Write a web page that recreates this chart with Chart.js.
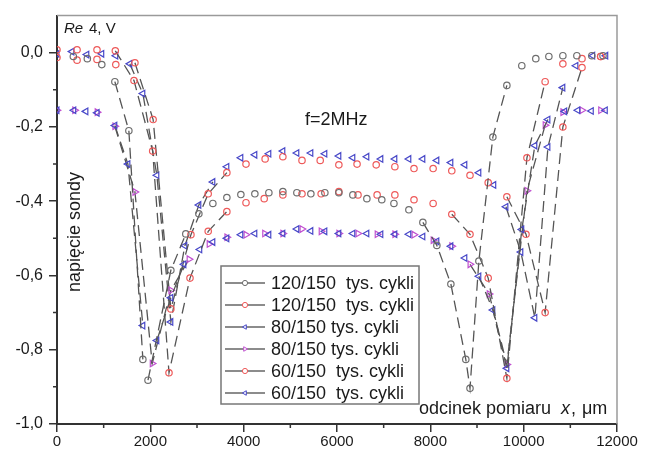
<!DOCTYPE html>
<html>
<head>
<meta charset="utf-8">
<script src="https://cdn.jsdelivr.net/npm/chart.js@4.4.0/dist/chart.umd.min.js"></script>
<style>
  html, body { margin: 0; padding: 0; background: #fff; }
</style>
</head>
<body>
<canvas id="wykres" width="652" height="454"></canvas>
<script>
/* global Chart */

// Osie
const xTicks = [0, 2000, 4000, 6000, 8000, 10000, 12000];
const xMinor = [1000, 3000, 5000, 7000, 9000, 11000];
const yTicks = [-1.0, -0.8, -0.6, -0.4, -0.2, 0.0];
const yMinor = [-0.9, -0.7, -0.5, -0.3, -0.1];

// 120/150 tys. cykli (szare kółka)
const x120a = [350, 650, 960, 1240, 1540, 1840, 1950, 2440, 2760, 3040, 3340, 3640, 3940, 4240, 4540, 4840, 5140, 5440, 5740, 6040, 6340, 6640, 6960, 7220, 7540, 7840, 8140, 8440, 8760, 8850, 9040, 9340, 9640, 9960, 10260, 10540, 10840, 11140, 11460, 11700];
const y120a = [-0.010, -0.016, -0.032, -0.078, -0.210, -0.826, -0.882, -0.586, -0.488, -0.434, -0.406, -0.390, -0.382, -0.380, -0.377, -0.374, -0.377, -0.380, -0.377, -0.377, -0.383, -0.393, -0.396, -0.406, -0.423, -0.457, -0.519, -0.623, -0.826, -0.904, -0.561, -0.227, -0.088, -0.035, -0.016, -0.010, -0.008, -0.008, -0.008, -0.008];

// 120/150 tys. cykli (czerwone kółka)
const x120b = [0, 430, 857, 1250, 1650, 2050, 2400, 2850, 3240, 3640, 4050, 4440, 4840, 5250, 5660, 6040, 6450, 6860, 7240, 7650, 8060, 8460, 8850, 9240, 9640, 10070, 10460, 10840, 11250, 11650];
const y120b = [0.008, 0.008, 0.008, 0.005, -0.075, -0.265, -0.862, -0.607, -0.481, -0.428, -0.404, -0.393, -0.383, -0.380, -0.380, -0.374, -0.383, -0.383, -0.383, -0.396, -0.406, -0.435, -0.489, -0.607, -0.877, -0.283, -0.078, -0.030, -0.016, -0.010];

// 80/150 tys. cykli (niebieskie trójkąty)
const x80a = [0, 360, 620, 860, 1240, 1520, 1840, 2140, 2440, 2720, 3060, 3340, 3640, 3940, 4240, 4540, 4840, 5140, 5440, 5740, 6040, 6340, 6640, 6940, 7240, 7540, 7840, 8140, 8440, 8740, 9040, 9340, 9640, 9960, 10240, 10520, 10880, 11160, 11450, 11750];
const y80a = [-0.155, -0.155, -0.158, -0.162, -0.196, -0.300, -0.735, -0.775, -0.660, -0.570, -0.530, -0.510, -0.500, -0.490, -0.487, -0.490, -0.487, -0.475, -0.480, -0.481, -0.487, -0.487, -0.487, -0.489, -0.489, -0.489, -0.495, -0.508, -0.521, -0.553, -0.602, -0.693, -0.850, -0.476, -0.250, -0.180, -0.158, -0.155, -0.157, -0.155];

// 80/150 tys. cykli (fioletowe trójkąty)
const x80b = [0, 380, 860, 1240, 1670, 2040, 2440, 2830, 3260, 3640, 4050, 4450, 4840, 5250, 5660, 6040, 6450, 6860, 7240, 7650, 8060, 8460, 8850, 9260, 9640, 10070, 10460, 10840, 11250, 11650];
const y80b = [-0.155, -0.155, -0.160, -0.198, -0.375, -0.837, -0.640, -0.556, -0.515, -0.497, -0.490, -0.487, -0.487, -0.475, -0.481, -0.487, -0.487, -0.489, -0.489, -0.490, -0.505, -0.521, -0.570, -0.650, -0.840, -0.372, -0.195, -0.160, -0.155, -0.155];

// 60/150 tys. cykli (czerwone kółka)
const x60a = [0, 430, 857, 1260, 1670, 2060, 2440, 2870, 3240, 3640, 4050, 4460, 4840, 5250, 5640, 6040, 6430, 6840, 7240, 7650, 8060, 8460, 8850, 9240, 9640, 10050, 10460, 10840, 11250, 11650];
const y60a = [-0.013, -0.020, -0.018, -0.032, -0.027, -0.180, -0.690, -0.490, -0.380, -0.323, -0.300, -0.286, -0.280, -0.290, -0.290, -0.302, -0.300, -0.302, -0.307, -0.312, -0.312, -0.318, -0.330, -0.350, -0.388, -0.489, -0.700, -0.200, -0.040, -0.010];

// 60/150 tys. cykli (niebieskie trójkąty)
const x60b = [0, 320, 640, 960, 1260, 1560, 1840, 2140, 2440, 2740, 3040, 3340, 3640, 3940, 4240, 4540, 4840, 5140, 5440, 5740, 6040, 6340, 6640, 6940, 7240, 7540, 7840, 8140, 8440, 8740, 9040, 9360, 9620, 9940, 10240, 10520, 10840, 11120, 11480, 11760];
const y60b = [-0.003, 0.003, -0.005, -0.003, -0.008, -0.030, -0.110, -0.330, -0.725, -0.520, -0.410, -0.348, -0.307, -0.283, -0.275, -0.272, -0.265, -0.270, -0.270, -0.272, -0.278, -0.283, -0.280, -0.286, -0.286, -0.286, -0.286, -0.290, -0.296, -0.302, -0.323, -0.356, -0.415, -0.537, -0.714, -0.254, -0.094, -0.035, -0.008, -0.008];

const etykiety = ['120/150  tys. cykli', '120/150  tys. cykli', '80/150 tys. cykli', '80/150 tys. cykli', '60/150  tys. cykli', '60/150  tys. cykli'];

const FONT = '"Liberation Sans", Arial, sans-serif';
const LINIA = '#555';

const zip = (xs, ys) => xs.map((x, i) => ({ x: x, y: ys[i] }));

// krótkie odcinki między gęstymi punktami znikają pod symbolami
const tylkoDlugie = ctx => {
    const d = Math.hypot(ctx.p1.x - ctx.p0.x, ctx.p1.y - ctx.p0.y);
    return d < 26 ? 'rgba(0,0,0,0)' : LINIA;
};

function seria(label, xs, ys, kolor, styl, obrot) {
    return {
        label: label,
        data: zip(xs, ys),
        showLine: true,
        borderColor: LINIA,
        borderWidth: 1.3,
        borderDash: [11, 6],
        segment: { borderColor: tylkoDlugie },
        pointStyle: styl,
        pointRotation: obrot,
        pointRadius: styl === 'circle' ? 3.2 : 3.8,
        pointBorderWidth: 1.2,
        pointBorderColor: kolor,
        pointBackgroundColor: 'rgba(0,0,0,0)',
    };
}

const datasets = [
    seria(etykiety[0], x120a, y120a, '#6e6e6e', 'circle', 0),
    seria(etykiety[1], x120b, y120b, '#ee5a5a', 'circle', 0),
    seria(etykiety[2], x80a, y80a, '#4848c8', 'triangle', -90),
    seria(etykiety[3], x80b, y80b, '#c050d0', 'triangle', 90),
    seria(etykiety[4], x60a, y60a, '#ee5a5a', 'circle', 0),
    seria(etykiety[5], x60b, y60b, '#4848c8', 'triangle', -90),
];

// ramka, drobne podziałki, opisy i legenda w ramce
const dodatki = {
    id: 'dodatki',
    afterDraw(chart) {
        const { ctx, chartArea: a, scales: { x, y } } = chart;
        ctx.save();
        ctx.setLineDash([]);

        ctx.strokeStyle = '#9a9a9a';
        ctx.lineWidth = 1.5;
        ctx.beginPath();
        ctx.moveTo(a.left, a.top);
        ctx.lineTo(a.right, a.top);
        ctx.lineTo(a.right, a.bottom);
        ctx.stroke();

        ctx.strokeStyle = '#333';
        ctx.lineWidth = 1.5;
        ctx.beginPath();
        xMinor.forEach(v => {
            const px = x.getPixelForValue(v);
            ctx.moveTo(px, a.bottom);
            ctx.lineTo(px, a.bottom + 4);
        });
        yMinor.forEach(v => {
            const py = y.getPixelForValue(v);
            ctx.moveTo(a.left, py);
            ctx.lineTo(a.left - 4, py);
        });
        ctx.stroke();

        ctx.fillStyle = '#1a1a1a';
        ctx.textBaseline = 'alphabetic';
        ctx.textAlign = 'left';
        ctx.font = 'italic 15px ' + FONT;
        ctx.fillText('Re', 64, 33);
        ctx.font = '15px ' + FONT;
        ctx.fillText('4, V', 89, 33);

        ctx.font = '18px ' + FONT;
        ctx.fillText('f=2MHz', 305, 125);

        ctx.fillText('odcinek pomiaru', 419, 414);
        ctx.font = 'italic 18px ' + FONT;
        ctx.fillText('x', 561, 414);
        ctx.font = '18px ' + FONT;
        ctx.fillText(',', 571, 414);
        ctx.fillText('\u03bcm', 582, 414);

        ctx.save();
        ctx.translate(75, 232);
        ctx.rotate(-Math.PI / 2);
        ctx.textAlign = 'center';
        ctx.textBaseline = 'middle';
        ctx.fillText('napięcie sondy', 0, 0);
        ctx.restore();

        // legenda
        const lx = 221, ly = 266, lw = 198, lh = 138;
        ctx.fillStyle = '#fff';
        ctx.fillRect(lx, ly, lw, lh);
        ctx.strokeStyle = '#777';
        ctx.lineWidth = 1.5;
        ctx.strokeRect(lx, ly, lw, lh);
        ctx.font = '18px ' + FONT;
        ctx.textBaseline = 'middle';
        chart.data.datasets.forEach((ds, i) => {
            const cy = ly + 17 + i * 22;
            ctx.strokeStyle = '#666';
            ctx.lineWidth = 1.5;
            ctx.beginPath();
            ctx.moveTo(225, cy);
            ctx.lineTo(265, cy);
            ctx.stroke();
            ctx.fillStyle = '#fff';
            ctx.strokeStyle = ds.pointBorderColor;
            ctx.lineWidth = 1;
            Chart.helpers.drawPoint(ctx, {
                pointStyle: ds.pointStyle,
                rotation: ds.pointRotation,
                radius: 2.6,
                borderWidth: 1,
            }, 245, cy);
            ctx.fillStyle = '#1a1a1a';
            ctx.fillText(ds.label, 271, cy + 1);
        });
        ctx.restore();
    }
};

new Chart(document.getElementById('wykres'), {
    type: 'scatter',
    data: { datasets: datasets },
    options: {
        responsive: false,
        animation: false,
        layout: { padding: { top: 13, right: 35, left: 0, bottom: 0 } },
        plugins: {
            legend: { display: false },
            tooltip: { enabled: false },
        },
        scales: {
            x: {
                type: 'linear',
                min: 0,
                max: 12000,
                afterBuildTicks: s => { s.ticks = xTicks.map(v => ({ value: v })); },
                afterFit: s => { s.height = 30; },
                ticks: {
                    color: '#1a1a1a',
                    font: { family: FONT, size: 15 },
                    padding: 1,
                    maxRotation: 0,
                    autoSkip: false,
                    callback: v => String(v),
                },
                grid: { drawOnChartArea: false, drawTicks: true, tickLength: 8, color: '#333', lineWidth: 1.5 },
                border: { color: '#333', width: 2 },
            },
            y: {
                type: 'linear',
                min: -1.0,
                max: 0.1,
                afterBuildTicks: s => { s.ticks = yTicks.map(v => ({ value: v })); },
                afterFit: s => { s.width = 57; },
                ticks: {
                    color: '#1a1a1a',
                    font: { family: FONT, size: 16 },
                    padding: 6,
                    autoSkip: false,
                    callback: v => v.toFixed(1).replace('.', ','),
                },
                grid: { drawOnChartArea: false, drawTicks: true, tickLength: 8, color: '#333', lineWidth: 1.5 },
                border: { color: '#333', width: 2 },
            },
        },
    },
    plugins: [dodatki],
});
</script>
</body>
</html>
